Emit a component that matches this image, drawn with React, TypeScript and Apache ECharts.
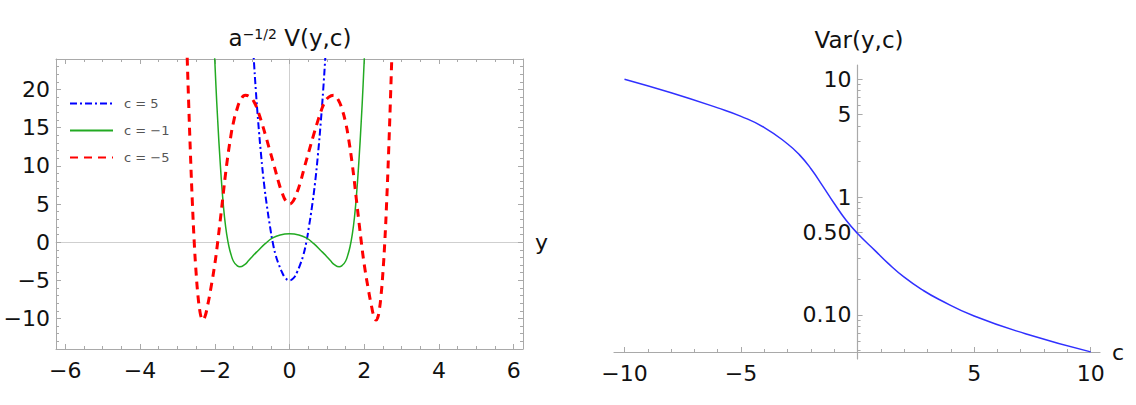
import React, { useEffect, useRef } from 'react';
import * as echarts from 'echarts';

const FONT = "'DejaVu Sans', 'Liberation Sans', Arial, sans-serif";

// ---------- Left panel: a^{-1/2} V(y,c) versus y ----------
const SERIES_NAMES = ['c = 5', 'c = \u22121', 'c = \u22125'];

const V_C5: [number, number][] = [
  [-1.0, 27.5], [-0.96, 24.3], [-0.9, 19.8], [-0.84, 15.9], [-0.76, 11.4], [-0.68, 7.6], [-0.6, 4.6],
  [-0.52, 2.0], [-0.45, 0], [-0.37, -1.7], [-0.28, -3.0], [-0.2, -3.95], [-0.1, -4.75], [0, -5],
  [0.1, -4.75], [0.2, -3.95], [0.28, -3.0], [0.37, -1.7], [0.45, 0], [0.52, 2.0], [0.6, 4.6],
  [0.68, 7.6], [0.76, 11.4], [0.84, 15.9], [0.9, 19.8], [0.96, 24.3], [1.0, 27.5],
];

const V_CM1: [number, number][] = [
  [-2.02, 26], [-1.97, 20.6], [-1.92, 15.8], [-1.86, 10.8], [-1.8, 6.6], [-1.74, 3.3], [-1.68, 1.0],
  [-1.62, -0.6], [-1.56, -1.7], [-1.5, -2.5], [-1.42, -3.0], [-1.33, -3.23], [-1.2, -2.95],
  [-1.1, -2.45], [-1.0, -1.9], [-0.85, -1.15], [-0.65, -0.2], [-0.45, 0.55], [-0.25, 0.95], [0, 1.1],
  [0.25, 0.95], [0.45, 0.55], [0.65, -0.2], [0.85, -1.15], [1.0, -1.9], [1.1, -2.45], [1.2, -2.95],
  [1.33, -3.23], [1.42, -3.0], [1.5, -2.5], [1.56, -1.7], [1.62, -0.6], [1.68, 1.0], [1.74, 3.3],
  [1.8, 6.6], [1.86, 10.8], [1.92, 15.8], [1.97, 20.6], [2.02, 26],
];

const V_CM5: [number, number][] = [
  [-2.75, 26], [-2.7, 18.4], [-2.65, 11.4], [-2.6, 5.2], [-2.55, 0], [-2.5, -4.0], [-2.45, -7.0],
  [-2.4, -9.0], [-2.36, -9.9], [-2.32, -10.2], [-2.26, -9.7], [-2.2, -8.5], [-2.1, -5.9], [-2.0, -2.9],
  [-1.93, -0.3], [-1.86, 2.6], [-1.79, 5.6], [-1.68, 10.2], [-1.57, 13.9], [-1.5, 15.7], [-1.42, 17.2],
  [-1.3, 18.7], [-1.18, 19.25], [-1.05, 19.0], [-0.94, 18.3], [-0.84, 17.1], [-0.74, 15.6],
  [-0.63, 13.8], [-0.52, 11.9], [-0.41, 10.0], [-0.3, 8.0], [-0.2, 6.5], [-0.1, 5.4], [0, 5.0],
  [0.1, 5.4], [0.2, 6.5], [0.3, 8.0], [0.41, 10.0], [0.52, 11.9], [0.63, 13.8], [0.74, 15.6],
  [0.84, 17.1], [0.94, 18.3], [1.05, 19.0], [1.18, 19.25], [1.3, 18.7], [1.42, 17.2], [1.5, 15.7],
  [1.57, 13.9], [1.68, 10.2], [1.79, 5.6], [1.86, 2.6], [1.93, -0.3], [2.0, -2.9], [2.1, -5.9],
  [2.2, -8.5], [2.26, -9.7], [2.32, -10.2], [2.36, -9.9], [2.4, -9.0], [2.45, -7.0], [2.5, -4.0],
  [2.55, 0], [2.6, 5.2], [2.65, 11.4], [2.7, 18.4], [2.75, 26],
];

const LEFT_X_TICKS = [-6, -4, -2, 0, 2, 4, 6];
const LEFT_Y_TICKS = [-10, -5, 0, 5, 10, 15, 20];

// ---------- Right panel: Var(y,c) versus c (log scale) ----------
const C_VALUES = [-10, -8, -6, -5, -4, -3, -2.5, -2, -1.5, -1, -0.5, 0, 0.75, 1.3, 2.0, 2.8, 3.5, 5, 7.2, 10];
const VAR_VALUES = [10, 7.67, 5.71, 4.84, 3.89, 2.82, 2.29, 1.74, 1.245, 0.881, 0.638, 0.49, 0.351, 0.275, 0.209, 0.162, 0.135, 0.0977, 0.0692, 0.0485];

const RIGHT_X_TICKS = [-10, -5, 0, 5, 10];
const RIGHT_X_LABELS = [-10, -5, 5, 10];
const RIGHT_Y_TICKS = [0.1, 0.5, 1, 5, 10];
const RIGHT_Y_LABELS = ['0.10', '0.50', '1', '5', '10'];
const RIGHT_Y_MINOR = [0.05, 0.06, 0.07, 0.08, 0.09, 0.2, 0.3, 0.4, 0.6, 0.7, 0.8, 0.9, 2, 3, 4, 6, 7, 8, 9];

const steps = (a: number, b: number, s: number) => {
  const out: number[] = [];
  for (let v = a; v <= b + 1e-9; v += s) out.push(Math.round(v * 1000) / 1000);
  return out;
};

const minus = (v: number) => String(v).replace('-', '\u2212');

const FRAME = '#a9a9a9';
const ZERO = '#cfcfcf';
const LABEL = { fontFamily: FONT, fontSize: 22, color: '#111' };

export default function App() {
  const ref = useRef<HTMLDivElement>(null);

  useEffect(() => {
    if (!ref.current) return;
    const chart = echarts.init(ref.current, undefined, { renderer: 'svg' });

    const LX = { min: -6.25, max: 6.25 };
    const LY = { min: -14, max: 24 };
    const RX = { min: -10.45, max: 10.4 };
    const RY = { min: Math.log10(0.0484) - 7 / 117.7, max: Math.log10(13.2) };
    const R_LEFT = 614;
    const R_WIDTH = 486;
    // shift of the right panel's vertical axis from the grid edge to c = 0
    const yShift = ((0 - RX.min) / (RX.max - RX.min)) * R_WIDTH;

    const frameAxis = (
      gridIndex: number,
      range: { min: number; max: number },
      position: string,
      ticks: number[],
      len: number,
      showLine: boolean,
      label: any
    ) => ({
      type: 'value',
      gridIndex,
      min: range.min,
      max: range.max,
      position,
      axisLine: { show: showLine, onZero: false, lineStyle: { color: FRAME, width: 1 } },
      axisTick: { show: true, inside: true, length: len, customValues: ticks, lineStyle: { color: FRAME, width: 1 } },
      axisLabel: label || { show: false },
      splitLine: { show: false },
      minorTick: { show: false },
    });

    const xMinorL = steps(-6, 6, 0.5);
    const yMinorL = steps(-13, 23, 1);

    const xAxes: any[] = [
      frameAxis(0, LX, 'bottom', LEFT_X_TICKS, 5, true, {
        ...LABEL, margin: 10, customValues: LEFT_X_TICKS, formatter: (v: number) => minus(v),
      }),
      frameAxis(0, LX, 'bottom', xMinorL, 3, false, null),
      frameAxis(0, LX, 'top', LEFT_X_TICKS, 5, true, null),
      frameAxis(0, LX, 'top', xMinorL, 3, false, null),
      {
        type: 'value', gridIndex: 0, min: LX.min, max: LX.max, position: 'bottom',
        axisLine: { show: true, onZero: true, lineStyle: { color: ZERO, width: 1 } },
        axisTick: { show: false }, axisLabel: { show: false }, splitLine: { show: false },
        name: 'y', nameLocation: 'end', nameGap: 12, nameMoveOverlap: false,
        nameTextStyle: { fontFamily: FONT, fontSize: 22, color: '#111', verticalAlign: 'middle' },
      },
      // right panel
      {
        type: 'value', gridIndex: 1, min: RX.min, max: RX.max, position: 'bottom', offset: -7,
        axisLine: { show: true, onZero: false, lineStyle: { color: FRAME, width: 1.2 } },
        axisTick: { show: true, inside: true, length: 5, customValues: RIGHT_X_TICKS, lineStyle: { color: FRAME } },
        axisLabel: { ...LABEL, margin: 10, customValues: RIGHT_X_LABELS, formatter: (v: number) => minus(v) },
        splitLine: { show: false },
        name: 'c', nameLocation: 'end', nameGap: 12, nameMoveOverlap: false,
        nameTextStyle: { fontFamily: FONT, fontSize: 22, color: '#111', verticalAlign: 'middle' },
      },
      {
        type: 'value', gridIndex: 1, min: RX.min, max: RX.max, position: 'bottom', offset: -7,
        axisLine: { show: false, onZero: false },
        axisTick: { show: true, inside: true, length: 3, customValues: steps(-10, 10, 1), lineStyle: { color: FRAME } },
        axisLabel: { show: false }, splitLine: { show: false },
      },
    ];

    const yMajorLog = RIGHT_Y_TICKS.map((v) => Math.log10(v));
    const yAxes: any[] = [
      frameAxis(0, LY, 'left', LEFT_Y_TICKS, 5, true, {
        ...LABEL, margin: 6, customValues: LEFT_Y_TICKS, formatter: (v: number) => minus(v),
      }),
      frameAxis(0, LY, 'left', yMinorL, 3, false, null),
      frameAxis(0, LY, 'right', LEFT_Y_TICKS, 5, true, null),
      frameAxis(0, LY, 'right', yMinorL, 3, false, null),
      {
        type: 'value', gridIndex: 0, min: LY.min, max: LY.max, position: 'left',
        axisLine: { show: true, onZero: true, lineStyle: { color: ZERO, width: 1 } },
        axisTick: { show: false }, axisLabel: { show: false }, splitLine: { show: false },
      },
      // right panel (log10 scale drawn on a value axis), moved to c = 0
      {
        type: 'value', gridIndex: 1, min: RY.min, max: RY.max, position: 'left', offset: -yShift,
        axisLine: { show: true, onZero: false, lineStyle: { color: FRAME, width: 1.2 } },
        axisTick: { show: true, inside: true, length: 5, customValues: yMajorLog, lineStyle: { color: FRAME } },
        axisLabel: {
          ...LABEL, margin: 6, customValues: yMajorLog,
          formatter: (v: number) => {
            let best = 0;
            yMajorLog.forEach((t, i) => { if (Math.abs(t - v) < Math.abs(yMajorLog[best] - v)) best = i; });
            return RIGHT_Y_LABELS[best];
          },
        },
        splitLine: { show: false },
      },
      {
        type: 'value', gridIndex: 1, min: RY.min, max: RY.max, position: 'left', offset: -yShift,
        axisLine: { show: false, onZero: false },
        axisTick: { show: true, inside: true, length: 3, customValues: RIGHT_Y_MINOR.map((v) => Math.log10(v)), lineStyle: { color: FRAME } },
        axisLabel: { show: false }, splitLine: { show: false },
      },
    ];

    chart.setOption({
      animation: false,
      textStyle: { fontFamily: FONT },
      grid: [
        { left: 56, top: 59, width: 467, height: 290, outerBoundsMode: 'none', containLabel: false },
        { left: R_LEFT, top: 65, width: R_WIDTH, height: 294, outerBoundsMode: 'none', containLabel: false },
      ],
      xAxis: xAxes,
      yAxis: yAxes,
      legend: {
        orient: 'vertical',
        left: 64,
        top: 92,
        itemWidth: 43,
        itemHeight: 14,
        itemGap: 14,
        data: SERIES_NAMES,
        itemStyle: { color: 'rgba(0,0,0,0)', borderColor: 'rgba(0,0,0,0)', borderWidth: 0, opacity: 0 },
        textStyle: { fontFamily: FONT, fontSize: 13, color: '#555', padding: [0, 0, 0, 6] },
        selectedMode: false,
      },
      graphic: [
        {
          type: 'text', x: 290, y: 38,
          style: {
            text: '{a|a}{s|\u22121/2}{a| V(y,c)}',
            align: 'center', verticalAlign: 'middle', textAlign: 'center', textVerticalAlign: 'middle',
            rich: {
              a: { fontFamily: FONT, fontSize: 23, fill: '#111', color: '#111' },
              s: { fontFamily: FONT, fontSize: 14, fill: '#111', color: '#111', verticalAlign: 'top' },
            },
          },
        },
        {
          type: 'text', x: 859, y: 40,
          style: {
            text: 'Var(y,c)', fontFamily: FONT, fontSize: 23, fill: '#111',
            align: 'center', verticalAlign: 'middle', textAlign: 'center', textVerticalAlign: 'middle',
          },
        },
      ],
      series: [
        {
          name: SERIES_NAMES[0], type: 'line', xAxisIndex: 0, yAxisIndex: 0, data: V_C5,
          smooth: true, symbol: 'none', clip: true,
          lineStyle: { color: '#0000ff', width: 2, type: [7, 3, 2, 3] }, itemStyle: { color: '#0000ff' },
        },
        {
          name: SERIES_NAMES[1], type: 'line', xAxisIndex: 0, yAxisIndex: 0, data: V_CM1,
          smooth: true, symbol: 'none', clip: true,
          lineStyle: { color: '#22aa22', width: 1.5, type: 'solid' }, itemStyle: { color: '#22aa22' },
        },
        {
          name: SERIES_NAMES[2], type: 'line', xAxisIndex: 0, yAxisIndex: 0, data: V_CM5,
          smooth: true, symbol: 'none', clip: true,
          lineStyle: { color: '#ff0000', width: 3, type: [8, 6] }, itemStyle: { color: '#ff0000' },
        },
        {
          name: 'Var', type: 'line', xAxisIndex: 5, yAxisIndex: 5,
          data: C_VALUES.map((c, i) => [c, Math.log10(VAR_VALUES[i])]),
          smooth: true, symbol: 'none', clip: false,
          lineStyle: { color: '#3030ff', width: 1.5 },
        },
      ],
    });

    return () => chart.dispose();
  }, []);

  return <div ref={ref} style={{ position: 'absolute', left: 0, top: 0, width: 1136, height: 405 }} />;
}
